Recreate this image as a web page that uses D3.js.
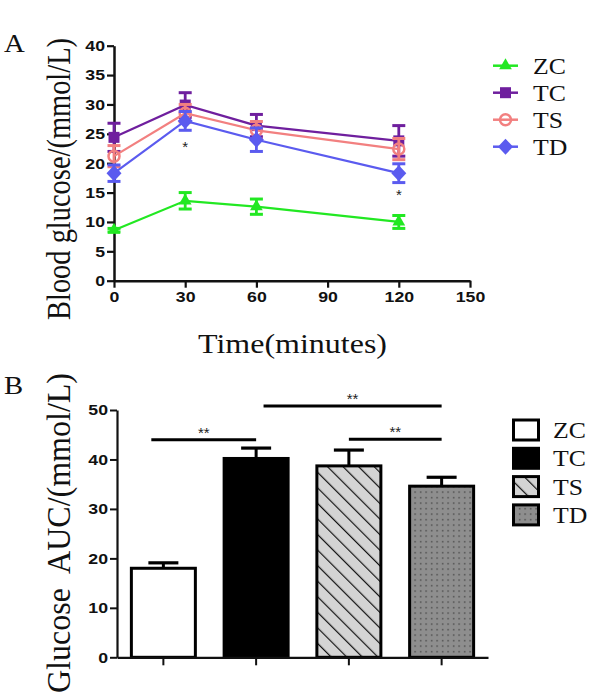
<!DOCTYPE html>
<html><head><meta charset="utf-8">
<script src="https://cdn.jsdelivr.net/npm/d3@7"></script>
<style>
body{margin:0;background:#fff;}
svg{display:block;}
</style></head>
<body>
<svg id="c" width="594" height="698"></svg>
<script>
// ---------- Panel A data ----------
const times = [0, 30, 60, 120];
const seriesNames = ["ZC", "TC", "TS", "TD"];
const zcMean = [8.6, 13.6, 12.6, 10.0];
const zcErr  = [0.3, 1.4, 1.3, 1.1];
const tcMean = [24.4, 29.9, 26.4, 23.8];
const tcErr  = [2.4, 2.1, 1.9, 2.6];
const tsMean = [21.2, 28.5, 25.6, 22.4];
const tsErr  = [1.8, 1.5, 1.5, 1.8];
const tdMean = [18.3, 27.2, 24.0, 18.3];
const tdErr  = [1.4, 1.6, 2.0, 1.6];
const xTicksA = [0, 30, 60, 90, 120, 150];
const yTicksA = [0, 5, 10, 15, 20, 25, 30, 35, 40];
const starsA = [{t: 30, v: 23.0}, {t: 120, v: 14.8}];

// ---------- Panel B data ----------
const groups = ["ZC", "TC", "TS", "TD"];
const aucMean = [18.0, 40.2, 38.7, 34.6];
const aucErr  = [1.1, 2.1, 3.2, 1.8];
const yTicksB = [0, 10, 20, 30, 40, 50];
const sigB = [
  {from: "ZC", to: "TC", v: 44.0, x1off: -0.13, x2off: 0},
  {from: "TC", to: "TD", v: 50.8, x1off: 0.08, x2off: 0},
  {from: "TS", to: "TD", v: 44.1, x1off: 0, x2off: 0}
];

const colors = {ZC: "#22e822", TC: "#6f1f9e", TS: "#f28080", TD: "#5b5bef"};
const svg = d3.select("#c");
const serif = '"Liberation Serif", "Times New Roman", serif';
const sans = '"Liberation Sans", Arial, sans-serif';
const SX = 1.18; // horizontal stretch of the original figure

// defs: patterns
const defs = svg.append("defs");
const hatch = defs.append("pattern").attr("id","hatch").attr("patternUnits","userSpaceOnUse")
  .attr("width",11).attr("height",11).attr("patternTransform","rotate(-45)");
hatch.append("rect").attr("width",11).attr("height",11).attr("fill","#d4d4d4");
hatch.append("line").attr("x1",0).attr("y1",0).attr("x2",0).attr("y2",11).attr("stroke","#111").attr("stroke-width",2.4);
const dots = defs.append("pattern").attr("id","dots").attr("patternUnits","userSpaceOnUse")
  .attr("width",5.5).attr("height",5.5);
dots.append("rect").attr("width",5.5).attr("height",5.5).attr("fill","#8e8e8e");
dots.append("rect").attr("x",2).attr("y",2).attr("width",1.3).attr("height",1.3).attr("fill","#3a3a3a");

function styleAxis(a, dw, tw, side) {
  a.attr("font-family", null).attr("font-size", null);
  a.select(".domain").attr("stroke","#111").attr("stroke-width",dw);
  a.selectAll(".tick line").attr("stroke","#111").attr("stroke-width",tw);
  a.selectAll(".tick text").style("font-family", sans).style("font-weight","bold")
    .style("font-size","15px").attr("fill","#111")
    .each(function(){
      const t = d3.select(this);
      if (side === "left") {
        const x = +t.attr("x");
        t.attr("x", x / SX).attr("transform", `scale(${SX},1)`);
      } else {
        t.attr("transform", `scale(${SX},1)`);
      }
    });
}

// =========== PANEL A ===========
const xA = d3.scaleLinear().domain([0,150]).range([114,470]);
const yA = d3.scaleLinear().domain([0,40]).range([280.7,45.7]);

const gA = svg.append("g");
const axA_y = gA.append("g").attr("transform","translate(114,0)")
  .call(d3.axisLeft(yA).tickValues(yTicksA).tickSize(7).tickSizeOuter(0).tickPadding(2));
const axA_x = gA.append("g").attr("transform","translate(0,280.7)")
  .call(d3.axisBottom(xA).tickValues(xTicksA).tickSize(7).tickSizeOuter(0).tickPadding(4));
styleAxis(axA_y, 2.5, 2.2, "left");
styleAxis(axA_x, 2.5, 2.2, "bottom");

const dataA = [
  {name:"ZC", mean: zcMean, err: zcErr},
  {name:"TC", mean: tcMean, err: tcErr},
  {name:"TS", mean: tsMean, err: tsErr},
  {name:"TD", mean: tdMean, err: tdErr}
];

const line = d3.line().x(d=>xA(d.t)).y(d=>yA(d.v));

function marker(g, name, cx, cy, col) {
  if (name === "ZC") {
    g.append("path").attr("d", d3.symbol(d3.symbolTriangle, 70)()).attr("transform",`translate(${cx},${cy})`).attr("fill",col);
  } else if (name === "TC") {
    g.append("rect").attr("x",cx-5.5).attr("y",cy-5.5).attr("width",11).attr("height",11).attr("fill",col);
  } else if (name === "TS") {
    g.append("circle").attr("cx",cx).attr("cy",cy).attr("r",5.5).attr("fill","none").attr("stroke",col).attr("stroke-width",2.5);
  } else {
    g.append("path").attr("d","M0,-8L7.5,0L0,8L-7.5,0Z").attr("transform",`translate(${cx},${cy})`).attr("fill",col);
  }
}

dataA.forEach(s=>{
  const col = colors[s.name];
  const g = gA.append("g");
  const pts = times.map((t,i)=>({t, v: s.mean[i], e: s.err[i]}));
  g.append("path").datum(pts).attr("d",line).attr("fill","none").attr("stroke",col).attr("stroke-width",2.2);
  pts.forEach(p=>{
    const cx = xA(p.t);
    g.append("line").attr("x1",cx).attr("x2",cx).attr("y1",yA(p.v+p.e)).attr("y2",yA(p.v-p.e)).attr("stroke",col).attr("stroke-width",2.8);
    [p.v+p.e, p.v-p.e].forEach(v=>{
      g.append("line").attr("x1",cx-6.5).attr("x2",cx+6.5).attr("y1",yA(v)).attr("y2",yA(v)).attr("stroke",col).attr("stroke-width",3);
    });
    marker(g, s.name, cx, yA(p.v), col);
  });
});

starsA.forEach(s=>{
  gA.append("text").attr("x",xA(s.t)).attr("y",yA(s.v)+6).attr("text-anchor","middle")
    .style("font-family",sans).style("font-size","15px").attr("fill","#222").text("*");
});

// legend A
seriesNames.forEach((n,i)=>{
  const cy = 65.7 + i*27;
  const col = colors[n];
  gA.append("line").attr("x1",493).attr("x2",518).attr("y1",cy).attr("y2",cy).attr("stroke",col).attr("stroke-width",2.5);
  marker(gA, n, 505.5, cy, col);
  gA.append("text").attr("transform",`translate(533,${cy+8}) scale(1.12,1)`)
    .style("font-family",serif).style("font-size","23px").attr("fill","#111").text(n);
});

// titles A
svg.append("text").attr("transform",`translate(4,52) scale(1.15,1)`).style("font-family",serif).style("font-size","25px").attr("fill","#111").text("A");
svg.append("text").attr("transform",`translate(70,179) rotate(-90) scale(1,${SX})`).attr("text-anchor","middle")
  .style("font-family",serif).style("font-size","28px").attr("fill","#111")
  .attr("textLength",282).attr("lengthAdjust","spacingAndGlyphs").text("Blood glucose/(mmol/L)");
svg.append("text").attr("x",292.5).attr("y",353).attr("text-anchor","middle")
  .style("font-family",serif).style("font-size","27px").attr("fill","#111")
  .attr("textLength",189).attr("lengthAdjust","spacingAndGlyphs").text("Time(minutes)");

// =========== PANEL B ===========
const xB = d3.scaleBand().domain(groups).range([117,488]).paddingInner(0.31).paddingOuter(0.155);
const yB = d3.scaleLinear().domain([0,50]).range([657.3,410]);
const gB = svg.append("g");

const fills = {ZC:"#ffffff", TC:"#000000", TS:"url(#hatch)", TD:"url(#dots)"};

groups.forEach((g,i)=>{
  const x0 = xB(g), w = xB.bandwidth(), cx = x0 + w/2;
  const top = yB(aucMean[i]), errTop = yB(aucMean[i]+aucErr[i]);
  gB.append("line").attr("x1",cx).attr("x2",cx).attr("y1",top).attr("y2",errTop).attr("stroke","#000").attr("stroke-width",3);
  gB.append("line").attr("x1",cx-15).attr("x2",cx+15).attr("y1",errTop).attr("y2",errTop).attr("stroke","#000").attr("stroke-width",3.2);
  gB.append("rect").attr("x",x0).attr("y",top).attr("width",w).attr("height",yB(0)-top)
    .attr("fill",fills[g]).attr("stroke","#000").attr("stroke-width",3);
});

const axB_y = gB.append("g").attr("transform","translate(117,0)")
  .call(d3.axisLeft(yB).tickValues(yTicksB).tickSize(7).tickSizeOuter(0).tickPadding(2));
const axB_x = gB.append("g").attr("transform",`translate(0,${yB(0)})`)
  .call(d3.axisBottom(xB).tickSize(8).tickSizeOuter(0).tickFormat(""));
styleAxis(axB_y, 2.2, 2, "left");
styleAxis(axB_x, 2.2, 2, "bottom");

sigB.forEach(s=>{
  const x1 = xB(s.from) + xB.bandwidth()/2 + s.x1off*xB.step();
  const x2 = xB(s.to) + xB.bandwidth()/2 + s.x2off*xB.step();
  const y = yB(s.v);
  gB.append("line").attr("x1",x1).attr("x2",x2).attr("y1",y).attr("y2",y).attr("stroke","#000").attr("stroke-width",3);
  gB.append("text").attr("x",(x1+x2)/2).attr("y",y-2).attr("text-anchor","middle")
    .style("font-family",sans).style("font-size","15px").attr("fill","#222").text("**");
});

// legend B
groups.forEach((g,i)=>{
  const y0 = 420 + i*28.3;
  gB.append("rect").attr("x",513.5).attr("y",y0).attr("width",25).attr("height",20)
    .attr("fill",fills[g]).attr("stroke","#000").attr("stroke-width",3);
  gB.append("text").attr("transform",`translate(553,${y0+18}) scale(1.12,1)`)
    .style("font-family",serif).style("font-size","23px").attr("fill","#111").text(g);
});

svg.append("text").attr("transform",`translate(4,394) scale(1.15,1)`).style("font-family",serif).style("font-size","25px").attr("fill","#111").text("B");
svg.append("text").attr("transform",`translate(70,533) rotate(-90) scale(1,${SX})`).attr("text-anchor","middle")
  .style("font-family",serif).style("font-size","28px").attr("fill","#111").style("white-space","pre")
  .attr("textLength",320).attr("lengthAdjust","spacingAndGlyphs").text("Glucose  AUC/(mmol/L)");
</script>
</body></html>
